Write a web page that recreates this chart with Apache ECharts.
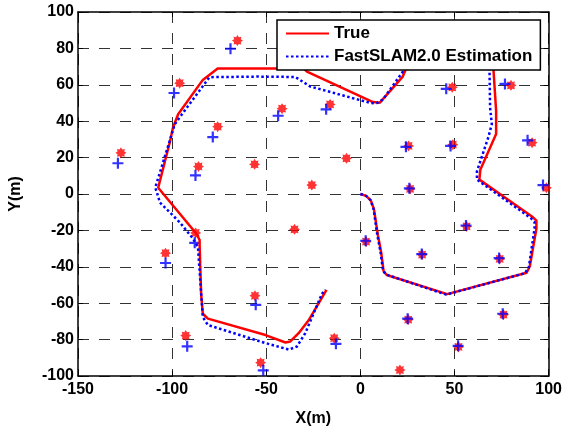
<!DOCTYPE html>
<html>
<head>
<meta charset="utf-8">
<script src="https://cdn.jsdelivr.net/npm/echarts@6/dist/echarts.min.js"></script>
<style>
  html, body { margin: 0; padding: 0; background: #fff; }
  #chart { width: 565px; height: 432px; }
</style>
</head>
<body>
<div id="chart"></div>
<script>
// vehicle path, true and estimated  [x, y] in metres
const truePath = [
  [0, 0], [3, -1], [5.5, -3.5], [7.2, -8.3], [9.3, -22.6], [11.1, -32.5], [12.3, -42.4], [14, -44.5],
  [46.1, -55], [88.3, -43.3], [90, -39.7], [93.5, -19], [93.5, -14.6], [91.7, -12.8],
  [63.2, 7.9], [63.7, 13.3], [72.1, 33], [72.1, 45.6], [71.2, 46.5], [70.7, 68],
  [70.5, 80], [65, 90], [40, 92], [28, 78], [22.5, 64.5], [10.2, 50.1], [6.7, 50.5],
  [-28.4, 67.2], [-30.2, 69], [-54.7, 69], [-75.8, 69], [-83.7, 62.7], [-96.8, 43.8],
  [-99.5, 36.7], [-101.2, 28.6], [-107.4, 3.4], [-87.2, -21.7], [-85.4, -25.3], [-85.4, -28],
  [-84.6, -55], [-83.7, -65.8], [-81, -68.5], [-50.4, -77.5], [-39.8, -81.6], [-37.2, -81],
  [-32.8, -76.5], [-27.5, -69.4], [-18, -52.7]
];
const estPath = [
  [0, 0], [3, -1], [5.5, -3.5], [7, -8.3], [9, -22.6], [10.8, -32.5], [12, -42], [13.5, -44.2],
  [45.6, -55.3], [87.5, -43.5], [89.5, -40], [92.5, -19], [92.5, -15.5], [90.5, -13.2],
  [61.9, 7.9], [61.9, 12.4], [68, 31.3], [69.8, 38.4], [68.9, 47.4], [68.6, 67.2],
  [68.5, 80], [60, 90], [40, 92], [27, 78], [22.5, 67.2], [12, 51.9], [8.4, 49.8], [5, 50.1],
  [-26.7, 59.1], [-34.6, 64.3], [-54.7, 64.5], [-80.2, 64.2], [-98.6, 38.4], [-101.2, 29.5],
  [-109, 3.4], [-108.3, 1.6], [-106.5, -4.7], [-96, -15.5], [-89, -24.4], [-86.3, -29],
  [-83.7, -67.6], [-81, -72], [-50.4, -81.9], [-38, -85.5], [-33.7, -83.8], [-29.3, -76.5],
  [-20.5, -55], [-18.8, -52.5]
];

// landmarks
const trueMarks = [
  [-65.3, 84.3], [-96, 60.9], [-127.2, 22.6], [-75.8, 37], [-86, 15.1], [-56.2, 16.3],
  [-41.6, 46.9], [-16.1, 49.2], [48.8, 58.6], [80, 59.7], [25.6, 26.4], [49.1, 27.1],
  [91.2, 28.2], [-7.4, 19.6], [-25.8, 4.9], [26.4, 2.8], [98.8, 3.4], [-87.5, -21.4],
  [-103.5, -32.5], [-56, -55.9], [-92.8, -77.8], [-53, -92.7], [-35, -19.4], [3, -26.2],
  [32.8, -33.3], [56.4, -17.8], [74, -35.7], [25.4, -69], [76, -66.3], [52.1, -84],
  [-13.9, -79.2], [21, -96.7]
];
const estMarks = [
  [-69, 79.8], [-99, 55.5], [-128.8, 16.9], [-78.4, 31.3], [-87.6, 10.2], [-43.7, 43],
  [-18.2, 46.5], [45.6, 57.8], [76.8, 60.5], [24.2, 25.9], [47.9, 26.4], [88.8, 29.5],
  [26, 3.1], [97, 4.9], [-88, -26.8], [-103.5, -37.9], [-55.6, -60.9], [-92, -83.7],
  [-51.6, -96.9], [2.8, -25.7], [32.6, -33], [56.1, -17.3], [73.7, -35.2], [25.1, -68.5],
  [75.6, -65.8], [51.9, -83.4], [-13, -82.3]
];

const xTicks = [-150, -100, -50, 0, 50, 100];
const yTicks = [-100, -80, -60, -40, -20, 0, 20, 40, 60, 80, 100];

// marker shapes
function starPath() {
  let d = '';
  for (let i = 0; i < 16; i++) {
    const r = i % 2 ? 3.3 : 5;
    const a = i * Math.PI / 8 - Math.PI / 2;
    d += (i ? 'L' : 'M') + (5 + r * Math.cos(a)).toFixed(2) + ',' + (5 + r * Math.sin(a)).toFixed(2);
  }
  return 'path://' + d + 'Z';
}
const plusPath = 'path://M4,0H6V4H10V6H6V10H4V6H0V4H4Z';

const font = 'Liberation Sans, Arial, Helvetica, sans-serif';
const labelStyle = { color: '#000', fontWeight: 'bold', fontSize: 16, fontFamily: font };

const chart = echarts.init(document.getElementById('chart'));

const boxAxis = {
  type: 'value',
  axisLine: { show: true, onZero: false, lineStyle: { color: '#000', width: 1.5 } },
  axisTick: { show: true, inside: true, length: 5, lineStyle: { color: '#000', width: 1 } },
  axisLabel: { show: false },
  splitLine: { show: false }
};

chart.setOption({
  animation: false,
  backgroundColor: '#fff',
  grid: { left: 74, right: 16, top: 12, bottom: 48 },
  legend: {
    data: ['True', 'FastSLAM2.0 Estimation'],
    orient: 'vertical',
    left: 277,
    top: 20,
    padding: [5, 8, 5, 8],
    itemWidth: 43,
    itemHeight: 14,
    itemGap: 6,
    itemStyle: { opacity: 0 },
    backgroundColor: '#fff',
    borderColor: '#000',
    borderWidth: 1.5,
    borderRadius: 0,
    textStyle: Object.assign({}, labelStyle, { fontSize: 17 })
  },
  xAxis: [
    {
      type: 'value', min: xTicks[0], max: xTicks[xTicks.length - 1], interval: 50,
      position: 'bottom',
      name: 'X(m)', nameLocation: 'middle', nameGap: 35, nameTextStyle: labelStyle,
      axisLine: { show: true, onZero: false, lineStyle: { color: '#000', width: 1.5 } },
      axisTick: { show: true, inside: true, length: 5, lineStyle: { color: '#000' } },
      axisLabel: Object.assign({ margin: 6 }, labelStyle),
      splitLine: { show: true, lineStyle: { color: '#333', width: 1, type: [11, 10] } }
    },
    Object.assign({}, boxAxis, { min: -150, max: 100, interval: 50, position: 'top' })
  ],
  yAxis: [
    {
      type: 'value', min: yTicks[0], max: yTicks[yTicks.length - 1], interval: 20,
      position: 'left',
      name: 'Y(m)', nameLocation: 'middle', nameGap: 54, nameTextStyle: labelStyle,
      axisLine: { show: true, onZero: false, lineStyle: { color: '#000', width: 1.5 } },
      axisTick: { show: true, inside: true, length: 5, lineStyle: { color: '#000' } },
      axisLabel: Object.assign({ margin: 4 }, labelStyle),
      splitLine: { show: true, lineStyle: { color: '#333', width: 1, type: [11, 10] } }
    },
    Object.assign({}, boxAxis, { min: -100, max: 100, interval: 20, position: 'right' })
  ],
  series: [
    {
      name: 'True', type: 'line', data: truePath, showSymbol: false, symbol: 'none',
      lineStyle: { color: '#ff0000', width: 2.5 }, itemStyle: { color: '#ff0000' }
    },
    {
      name: 'FastSLAM2.0 Estimation', type: 'line', data: estPath, showSymbol: false, symbol: 'none',
      lineStyle: { color: '#0000ff', width: 2.5, type: [2.5, 2.5] }, itemStyle: { color: '#0000ff' }
    },
    {
      name: 'true landmarks', type: 'scatter', data: trueMarks,
      symbol: starPath(), symbolSize: 11, itemStyle: { color: '#ff0000' }
    },
    {
      name: 'estimated landmarks', type: 'scatter', data: estMarks,
      symbol: plusPath, symbolSize: 11, itemStyle: { color: '#0000ff' }
    }
  ]
});
</script>
</body>
</html>
